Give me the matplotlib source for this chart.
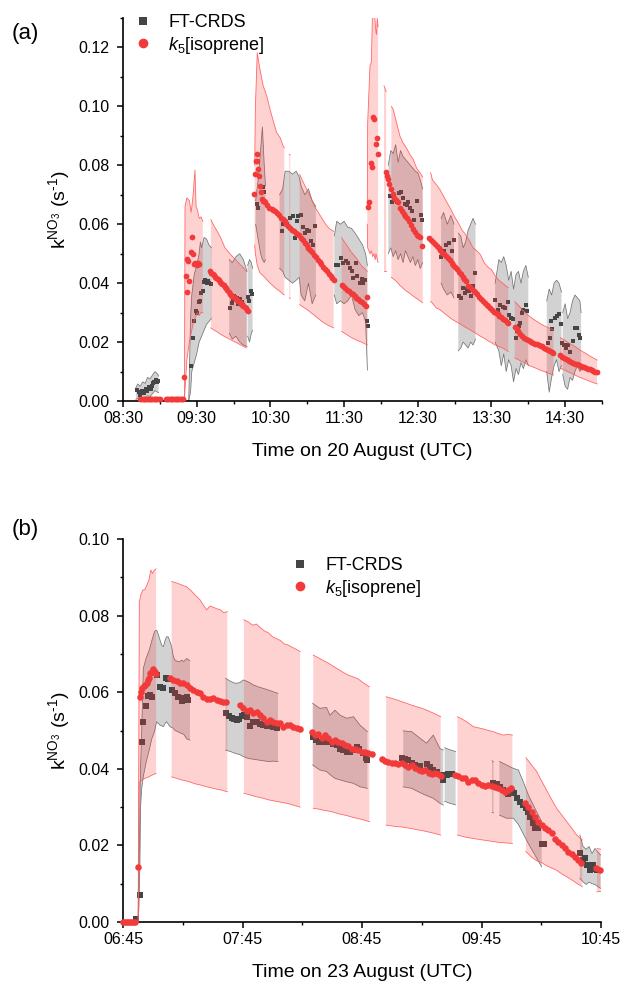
import numpy as np
import matplotlib
matplotlib.use("Agg")
import matplotlib.pyplot as plt
from matplotlib.lines import Line2D
from matplotlib.ticker import FixedLocator, MultipleLocator

plt.rcParams['font.family'] = ['Liberation Sans', 'DejaVu Sans']
plt.rcParams['mathtext.fontset'] = 'custom'
plt.rcParams['mathtext.rm'] = 'Liberation Sans'
plt.rcParams['mathtext.it'] = 'Liberation Sans:italic'
plt.rcParams['mathtext.bf'] = 'Liberation Sans:bold'

# ======================= PANEL (a): minutes after 08:30 =======================
a_start = "08:30"
a_end = "15:00"
a_tick_labels = ["08:30", "09:30", "10:30", "11:30", "12:30", "13:30", "14:30"]
a_xlabel = "Time on 20 August (UTC)"

# k5[isoprene] (time, value)
a_red = [
    (14, 0.0008), (15, 0.0008), (16, 0.0008), (17, 0.0008), (18, 0.0008), (19, 0.0008), (20, 0.0008),
    (21, 0.0008), (22, 0.0008), (23, 0.0008), (24, 0.0008), (25, 0.0008), (26, 0.0008), (27, 0.0008),
    (28, 0.0008), (29, 0.0008), (30, 0.0008),
    (35, 0.0008), (36, 0.0008), (37, 0.0008), (38, 0.0008), (39, 0.0008), (40, 0.0008), (41, 0.0008),
    (42, 0.0008), (43, 0.0008), (44, 0.0008), (45, 0.0008), (46, 0.0008), (47, 0.0008), (48, 0.0008),
    (49, 0.0008), (50, 0.0083),
    (51, 0.0425), (52, 0.0482), (52.5, 0.0370), (53, 0.0476), (54, 0.0407), (55, 0.0507), (56, 0.0558),
    (57, 0.0500), (58, 0.0465), (59, 0.0468), (60, 0.0460), (61, 0.0470), (62, 0.0465),
    (71, 0.0440), (72, 0.0435), (73, 0.0430), (74, 0.0428), (75, 0.0422), (76, 0.0418), (77, 0.0415),
    (78, 0.0410), (79, 0.0405), (80, 0.0402), (81, 0.0398), (82, 0.0394), (83, 0.0388), (84, 0.0382),
    (85, 0.0376), (86, 0.0370), (87, 0.0364), (88, 0.0360), (89, 0.0357), (90, 0.0353), (91, 0.0350),
    (92, 0.0346), (93, 0.0343), (94, 0.0339), (95, 0.0335), (96, 0.0330), (97, 0.0326), (98, 0.0322),
    (99, 0.0318), (100, 0.0314), (101, 0.0310), (102, 0.0306),
    (107, 0.0703), (107.5, 0.0769), (108, 0.0814), (109, 0.0837), (109.5, 0.0814), (110, 0.0786),
    (110.7, 0.0765), (111.5, 0.0729), (112, 0.0708), (113, 0.0686), (114, 0.0680), (115, 0.0678),
    (116, 0.0676), (117.5, 0.0665), (119, 0.0655), (121, 0.0652), (122.5, 0.0650), (124, 0.0645),
    (125.5, 0.0639), (127, 0.0630), (128.5, 0.0622), (130, 0.0617), (131.5, 0.0610), (133, 0.0602),
    (134.5, 0.0594), (136, 0.0588), (137.5, 0.0582), (139, 0.0576), (140.5, 0.0570), (142, 0.0567),
    (143.5, 0.0562), (145, 0.0552), (146.5, 0.0545), (148, 0.0537), (149.5, 0.0529), (151, 0.0521),
    (152.5, 0.0513), (154, 0.0505), (155.5, 0.0497), (157, 0.0489), (158.5, 0.0480), (160, 0.0472),
    (161.5, 0.0464), (163, 0.0456), (164.5, 0.0448), (166, 0.0440), (167.5, 0.0432), (169, 0.0425),
    (170.5, 0.0418), (172, 0.0410),
    (178, 0.0394), (179.5, 0.0389), (181, 0.0383), (182.5, 0.0378), (184, 0.0372), (185.5, 0.0367),
    (187, 0.0362), (188.5, 0.0356), (190, 0.0351), (191.5, 0.0346), (193, 0.0340), (194.5, 0.0335),
    (196, 0.0329), (197.8, 0.0321), (198.9, 0.0352),
    (199.7, 0.0658), (200.5, 0.0676), (201.9, 0.0808), (203, 0.0795), (203.8, 0.0965), (204.6, 0.0956),
    (206, 0.0874), (206.8, 0.0893), (207.6, 0.0837),
    (213.9, 0.0778), (214.7, 0.0765), (215.5, 0.0752), (216.8, 0.0735), (218.2, 0.0718), (219.6, 0.0704),
    (220.9, 0.0690), (222.0, 0.0682), (223.6, 0.0676), (225.5, 0.0655), (227, 0.0644), (228.5, 0.0636),
    (230, 0.0628), (231.5, 0.0620), (233, 0.0610), (234.5, 0.0598), (236, 0.0585), (237.5, 0.0574),
    (239, 0.0565), (240.5, 0.0560), (241.8, 0.0556), (243.6, 0.0527),
    (249.4, 0.0554), (251, 0.0546), (252.5, 0.0540), (254, 0.0533), (255.5, 0.0526), (257, 0.0519),
    (258.5, 0.0512), (260, 0.0504), (261.5, 0.0498), (263, 0.0491), (264.5, 0.0484), (266, 0.0477),
    (267.5, 0.0470), (269, 0.0463), (270.5, 0.0455), (272, 0.0447), (273.5, 0.0439), (275, 0.0430),
    (276.5, 0.0422), (278, 0.0414), (279, 0.0409),
    (281, 0.0392), (282.5, 0.0386), (284, 0.0381), (285.5, 0.0375), (287, 0.0369), (288.5, 0.0362),
    (290, 0.0354), (291.5, 0.0346), (293, 0.0340), (294.5, 0.0334), (296, 0.0327), (297.5, 0.0321),
    (299, 0.0315), (300.5, 0.0309), (302, 0.0303), (303.5, 0.0299), (305, 0.0294), (306.5, 0.0289),
    (308, 0.0284), (309.5, 0.0279), (311, 0.0274), (312.5, 0.0269), (313.7, 0.0265),
    (319, 0.0252), (320.5, 0.0245), (322, 0.0237), (323.5, 0.0228), (325, 0.0220), (326.5, 0.0215),
    (328, 0.0210), (329.5, 0.0206), (331, 0.0203), (332.5, 0.0201), (334, 0.0198), (335.5, 0.0195),
    (337, 0.0192), (338.5, 0.0190), (340, 0.0188), (341.5, 0.0185), (343, 0.0181), (344.5, 0.0177),
    (346, 0.0173), (347.5, 0.0169), (349, 0.0165), (350.5, 0.0162),
    (355.8, 0.0155), (357.5, 0.0151), (359, 0.0147), (360.5, 0.0143), (362, 0.0139), (363.5, 0.0136),
    (365, 0.0133), (366.5, 0.0130), (368, 0.0127), (369.5, 0.0124), (371, 0.0121), (372.5, 0.0119),
    (374, 0.0117), (375.5, 0.0114), (377, 0.0111), (378.5, 0.0109), (380, 0.0107), (381.5, 0.0104),
    (383, 0.0102), (384.5, 0.0100), (385.6, 0.0099),
]

# FT-CRDS (time, value)
a_sq = [
    (11.5, 0.0036), (13, 0.0030), (14, 0.0020), (15.5, 0.0034), (17, 0.0028), (18.5, 0.0040), (19.5, 0.0035),
    (21, 0.0046), (22.5, 0.0040), (23.5, 0.0052), (24.5, 0.0060), (25.5, 0.0066), (26.5, 0.0070),
    (27.5, 0.0064), (28.5, 0.0068),
    (55.4, 0.0120), (56.7, 0.0215), (58.0, 0.0270), (59.2, 0.0305), (60.4, 0.0300), (61.5, 0.0335),
    (62.6, 0.0340), (63.7, 0.0365), (64.8, 0.0372), (65.9, 0.0405), (67.0, 0.0410), (68.1, 0.0402),
    (69.2, 0.0408), (70.3, 0.0400), (71.4, 0.0398),
    (87.5, 0.0316), (88.5, 0.0333), (89.5, 0.0345), (90.5, 0.0356), (91.5, 0.0352), (92.5, 0.0348),
    (93.5, 0.0330), (94.5, 0.0336), (95.5, 0.0345), (96.5, 0.0335), (97.5, 0.0325), (98.5, 0.0320),
    (101.8, 0.0352), (102.8, 0.0340), (104, 0.0372), (105, 0.0362),
    (108.8, 0.0667), (109.8, 0.0655), (113.8, 0.0726), (114.4, 0.0708),
    (129.2, 0.0576), (130.5, 0.0600), (133.2, 0.0600), (136, 0.0622), (138.7, 0.0628), (140, 0.0553),
    (141.4, 0.0610), (142.7, 0.0628), (144.7, 0.0633), (146.8, 0.0590), (148.2, 0.0570), (149.6, 0.0580),
    (151.7, 0.0576), (152.8, 0.0542), (155, 0.0530), (156.3, 0.0593),
    (173.4, 0.0460), (175.3, 0.0460), (177.5, 0.0485), (179.3, 0.0470), (181.5, 0.0475), (183.4, 0.0468),
    (184.8, 0.0450), (186.2, 0.0440), (187.5, 0.0418), (189.7, 0.0470), (190.8, 0.0425), (193, 0.0400),
    (194.3, 0.0415), (195.6, 0.0400), (197, 0.0410), (198.9, 0.0270), (199.3, 0.0253),
    (217.4, 0.0695), (218.7, 0.0675), (220.9, 0.0697), (222.8, 0.0677), (224.7, 0.0705), (226.3, 0.0708),
    (227.7, 0.0690), (229.6, 0.0670), (231, 0.0665), (232.3, 0.0675), (233.6, 0.0655), (235.5, 0.0645),
    (237.2, 0.0615), (239.6, 0.0678), (242.4, 0.0633), (243.2, 0.0616),
    (259.1, 0.0490), (261.1, 0.0510), (263.3, 0.0530), (265.6, 0.0535), (268.2, 0.0510), (269.8, 0.0545),
    (273.8, 0.0355), (274.9, 0.0350), (276.5, 0.0383), (278.4, 0.0365), (279.8, 0.0380), (281.9, 0.0375),
    (283.3, 0.0355), (284.7, 0.0392), (286.6, 0.0434),
    (302.8, 0.0343), (305.5, 0.0310), (306.9, 0.0325), (309.1, 0.0320), (311, 0.0315), (313.7, 0.0336),
    (314.2, 0.0293), (315.6, 0.0282), (317.8, 0.0280), (320, 0.0214), (321, 0.0236), (322.6, 0.0253),
    (323.2, 0.0265), (324.6, 0.0297), (325.9, 0.0310), (328.1, 0.0327), (329.2, 0.0306),
    (346.3, 0.0196), (347.6, 0.0214), (348.2, 0.0270), (349.5, 0.0244), (351.7, 0.0282), (353.6, 0.0288),
    (355.2, 0.0296), (356.4, 0.0262),
    (357.2, 0.0196), (359, 0.0190), (360.7, 0.0180), (362.5, 0.0190), (363.9, 0.0168), (366.1, 0.0205),
    (367.9, 0.0248), (369.8, 0.0248), (371.4, 0.0225), (372, 0.0213),
]

# uncertainty range of k5[isoprene]: segments of (time, upper, lower)
a_red_bands = [
    [(50, 0.0, 0.0), (50.5, 0.066, 0.004), (52, 0.069, 0.014), (54, 0.068, 0.020), (55.5, 0.064, 0.023),
     (57, 0.0695, 0.026), (58.6, 0.0784, 0.028), (59.5, 0.066, 0.029), (60.5, 0.065, 0.030),
     (62, 0.062, 0.029), (63.5, 0.0625, 0.030), (65, 0.061, 0.030)],
    [(71.5, 0.0616, 0.0248), (74, 0.0595, 0.0241), (77, 0.0574, 0.0234), (80, 0.0550, 0.0225),
     (83, 0.0520, 0.0218), (86, 0.0505, 0.0212), (89, 0.0491, 0.0205), (92, 0.0478, 0.0199),
     (95, 0.0465, 0.0192), (98, 0.0452, 0.0186), (100.5, 0.0440, 0.0180)],
    [(107.2, 0.080, 0.053), (107.8, 0.100, 0.050), (109.3, 0.1182, 0.046), (111.5, 0.1126, 0.0435),
     (114.2, 0.1069, 0.0425), (117, 0.1036, 0.0412), (119.7, 0.0990, 0.0400), (122.4, 0.0950, 0.0390),
     (125.1, 0.0911, 0.0380), (127.8, 0.0895, 0.0372), (130.5, 0.0865, 0.0362), (131.3, 0.0860, 0.0360)],
    [(135.4, 0.0837, 0.0350), (136.2, 0.0835, 0.0348)],
    [(143.8, 0.0769, 0.0327), (147, 0.0740, 0.0318), (150, 0.0715, 0.0310), (153, 0.0690, 0.0300),
     (156, 0.0660, 0.0290), (159, 0.0640, 0.0280), (162, 0.0620, 0.0270), (165, 0.0600, 0.0262),
     (168, 0.0585, 0.0255), (171.5, 0.0576, 0.0248)],
    [(178, 0.0554, 0.0236), (182, 0.0530, 0.0226), (186, 0.0505, 0.0215), (190, 0.0485, 0.0207),
     (194, 0.0460, 0.0200), (198.9, 0.0440, 0.0190)],
    [(198.9, 0.065, 0.060), (199.2, 0.0944, 0.052), (201.1, 0.1137, 0.050), (202.2, 0.1150, 0.051),
     (203.3, 0.1350, 0.049), (204.3, 0.1350, 0.050), (205.4, 0.1280, 0.048), (206, 0.1250, 0.050),
     (206.5, 0.1245, 0.049), (207, 0.1300, 0.048), (207.7, 0.1270, 0.047)],
    [(212.5, 0.107, 0.044), (214.3, 0.105, 0.044)],
    [(218.5, 0.100, 0.042), (220, 0.099, 0.0415), (222.8, 0.0944, 0.0405), (225.5, 0.0899, 0.0392),
     (228.2, 0.0875, 0.0382), (231, 0.0857, 0.0372), (233.6, 0.0837, 0.0365), (236.3, 0.0820, 0.0356),
     (239.1, 0.0790, 0.0348), (241.8, 0.0775, 0.0340), (244, 0.0760, 0.0333)],
    [(250.5, 0.0775, 0.0338), (252, 0.0750, 0.0332), (255, 0.0735, 0.0316), (258, 0.0718, 0.0310),
     (261, 0.0695, 0.0300), (264, 0.0672, 0.0290), (267, 0.0650, 0.0280), (270, 0.0625, 0.0272),
     (273, 0.0605, 0.0265), (276, 0.0580, 0.0258), (279, 0.0565, 0.0250), (282, 0.0545, 0.0243),
     (285, 0.0520, 0.0235), (288, 0.0510, 0.0228), (291, 0.0497, 0.0220), (294, 0.0470, 0.0213),
     (297, 0.0455, 0.0205), (300, 0.0446, 0.0198), (303, 0.0425, 0.0190), (306, 0.0410, 0.0185),
     (309, 0.0400, 0.0180), (313.7, 0.0384, 0.0168)],
    [(319, 0.0337, 0.0146), (322, 0.0325, 0.0140), (325, 0.0310, 0.0133), (328, 0.0298, 0.0127),
     (331, 0.0287, 0.0120), (334, 0.0278, 0.0115), (337, 0.0270, 0.0110), (340, 0.0262, 0.0104),
     (343, 0.0255, 0.0100), (346, 0.0249, 0.0095), (350.5, 0.0241, 0.0088)],
    [(356, 0.0215, 0.0112), (359, 0.0208, 0.0106), (362, 0.0200, 0.0100), (365, 0.0192, 0.0094),
     (368, 0.0185, 0.0088), (371, 0.0176, 0.0082), (374, 0.0168, 0.0077), (377, 0.0161, 0.0072),
     (380, 0.0153, 0.0067), (383, 0.0146, 0.0062), (386, 0.0139, 0.0058)],
]

# uncertainty range of FT-CRDS: segments of (time, upper, lower)
a_gray_bands = [
    [(10.5, 0.0045, 0.0005), (12, 0.0058, 0.0010), (14, 0.0050, 0.0003), (16, 0.0065, 0.0012),
     (18, 0.0060, 0.0008), (20, 0.0080, 0.0018), (22, 0.0075, 0.0015), (24, 0.0088, 0.0025),
     (26, 0.0100, 0.0035), (28, 0.0092, 0.0030), (29, 0.0085, 0.0028)],
    [(53.5, 0.0, 0.0), (55, 0.028, 0.003), (56, 0.036, 0.010), (58, 0.043, 0.013), (60, 0.046, 0.016),
     (62, 0.050, 0.020), (63, 0.054, 0.021), (64, 0.052, 0.022), (66, 0.0555, 0.024), (68, 0.055, 0.026),
     (70, 0.053, 0.027), (72, 0.052, 0.028)],
    [(86.5, 0.048, 0.023), (89, 0.047, 0.021), (92, 0.049, 0.022), (95, 0.050, 0.020), (98, 0.048, 0.019),
     (101, 0.044, 0.0185)],
    [(101.5, 0.046, 0.022), (103, 0.048, 0.020), (104.5, 0.047, 0.023), (105.5, 0.045, 0.024)],
    [(108, 0.068, 0.060), (110, 0.075, 0.055), (112, 0.085, 0.050), (113.5, 0.093, 0.048),
     (115, 0.080, 0.047), (116, 0.073, 0.048)],
    [(127.5, 0.070, 0.045), (130, 0.072, 0.044), (132, 0.078, 0.042), (135, 0.078, 0.041),
     (138, 0.077, 0.040), (141, 0.078, 0.041), (143.5, 0.076, 0.042), (145, 0.073, 0.036),
     (148, 0.070, 0.034), (151, 0.072, 0.040), (154, 0.068, 0.033), (157, 0.066, 0.036)],
    [(172, 0.056, 0.036), (174, 0.061, 0.033), (177, 0.060, 0.034), (180, 0.061, 0.033), (183, 0.059, 0.034),
     (186, 0.0586, 0.036), (189, 0.057, 0.031), (192, 0.055, 0.029), (195, 0.053, 0.030),
     (197.5, 0.050, 0.027), (199, 0.046, 0.0105)],
    [(216, 0.080, 0.050), (218, 0.085, 0.052), (220, 0.084, 0.049), (222, 0.087, 0.051), (224, 0.081, 0.048),
     (226, 0.085, 0.050), (228, 0.083, 0.047), (230, 0.082, 0.051), (232, 0.081, 0.049), (234, 0.080, 0.047),
     (236, 0.079, 0.049), (238, 0.078, 0.046), (240, 0.0775, 0.048), (242, 0.075, 0.045), (244, 0.072, 0.047)],
    [(259, 0.062, 0.040), (261, 0.064, 0.038), (264, 0.060, 0.036), (267, 0.063, 0.037), (269.5, 0.060, 0.035)],
    [(273, 0.057, 0.017), (275, 0.056, 0.018), (277, 0.052, 0.020), (279, 0.054, 0.019), (281, 0.058, 0.018),
     (283, 0.060, 0.020), (285, 0.062, 0.019), (287, 0.060, 0.021)],
    [(303, 0.040, 0.020), (306, 0.048, 0.017), (308, 0.047, 0.012), (310, 0.049, 0.016), (312, 0.046, 0.010),
     (314, 0.041, 0.014), (316, 0.044, 0.012), (318, 0.038, 0.0065), (320, 0.043, 0.011), (322, 0.044, 0.009),
     (324, 0.040, 0.013), (326, 0.044, 0.011), (328, 0.046, 0.014), (330, 0.042, 0.012)],
    [(345, 0.034, 0.010), (347, 0.038, 0.003), (349, 0.036, 0.008), (351, 0.040, 0.012), (353, 0.041, 0.014),
     (355, 0.040, 0.010), (357, 0.037, 0.012)],
    [(358, 0.030, 0.009), (360, 0.033, 0.005), (362, 0.028, 0.004), (364, 0.030, 0.008), (366, 0.034, 0.007),
     (368, 0.036, 0.010), (370, 0.035, 0.012), (372, 0.034, 0.010), (373, 0.030, 0.011)],
]

# ======================= PANEL (b): minutes after 06:45 =======================
b_start = "06:45"
b_end = "10:45"
b_tick_labels = ["06:45", "07:45", "08:45", "09:45", "10:45"]
b_xlabel = "Time on 23 August (UTC)"

b_red = [
    (0, 0.0), (1, 0.0), (2, 0.0), (3, 0.0), (4, 0.0), (5, 0.0), (6, 0.0),
    (7.5, 0.0144), (8.5, 0.0587), (9.2, 0.0600), (9.7, 0.0612), (10.5, 0.0617), (11.2, 0.0620), (11.9, 0.0625),
    (12.5, 0.0632), (13.1, 0.0638), (13.8, 0.0650), (14.4, 0.0654), (15.0, 0.0660), (15.6, 0.0656),
    (16.1, 0.0652), (16.6, 0.0647),
    (23.6, 0.0638), (25.3, 0.0632), (27.0, 0.0629), (28.6, 0.0625), (30.3, 0.0623), (32.0, 0.0619),
    (33.6, 0.0610), (35.3, 0.0606), (37.0, 0.0600), (38.7, 0.0597), (40.3, 0.0588), (42.0, 0.0581),
    (43.7, 0.0582), (45.3, 0.0584), (47.0, 0.0580), (48.7, 0.0577), (50.4, 0.0575), (51.7, 0.0575),
    (58.7, 0.0567), (60.4, 0.0558), (62.1, 0.0552), (63.8, 0.0554), (65.4, 0.0545), (67.1, 0.0549),
    (68.8, 0.0540), (70.4, 0.0532), (72.1, 0.0523), (73.8, 0.0527), (75.5, 0.0523), (77.1, 0.0519),
    (78.8, 0.0519), (80.5, 0.0510), (82.2, 0.0514), (83.8, 0.0514), (85.5, 0.0510), (87.2, 0.0506),
    (88.9, 0.0503),
    (94.7, 0.0495), (96.4, 0.0488), (98.1, 0.0491), (99.7, 0.0480), (101.4, 0.0488), (103.1, 0.0480),
    (104.8, 0.0471), (106.4, 0.0475), (108.1, 0.0471), (109.8, 0.0467), (111.5, 0.0462), (113.1, 0.0460),
    (114.8, 0.0453), (116.5, 0.0453), (118.2, 0.0449), (119.8, 0.0445), (121.5, 0.0445), (123.2, 0.0440),
    (124.9, 0.0439),
    (129.9, 0.0426), (131.6, 0.0420), (133.3, 0.0419), (135.0, 0.0416), (136.6, 0.0414), (138.3, 0.0412),
    (140.0, 0.0416), (141.7, 0.0410), (143.3, 0.0406), (145.0, 0.0410), (146.7, 0.0401), (148.4, 0.0397),
    (150.0, 0.0393), (151.7, 0.0397), (153.4, 0.0388), (155.1, 0.0386), (156.7, 0.0388), (158.4, 0.0386),
    (159.8, 0.0382),
    (166.7, 0.0384), (168.4, 0.0382), (170.0, 0.0377), (171.7, 0.0375), (173.4, 0.0366), (175.1, 0.0371),
    (176.7, 0.0371), (178.4, 0.0362), (180.1, 0.0358), (181.8, 0.0356), (183.4, 0.0358), (185.1, 0.0356),
    (186.8, 0.0353), (188.4, 0.0351), (190.1, 0.0345), (191.8, 0.0340), (193.5, 0.0345), (194.6, 0.0351),
    (201.8, 0.0310), (203.5, 0.0301), (205.2, 0.0288), (206.8, 0.0275), (208.5, 0.0262), (210.2, 0.0253),
    (211.8, 0.0245), (213.5, 0.0240), (215.2, 0.0232), (216.9, 0.0218), (218.5, 0.0210), (220.2, 0.0201),
    (221.9, 0.0192), (223.5, 0.0184), (225.2, 0.0177), (226.9, 0.0171), (228.6, 0.0162), (230.2, 0.0153),
    (237.7, 0.0140), (239.4, 0.0136),
]

b_sq = [
    (6.5, 0.0008), (8.5, 0.0070), (9.4, 0.0471), (10.2, 0.0523), (11.4, 0.0563), (12.7, 0.0589),
    (13.6, 0.0593), (14.4, 0.0588), (16.9, 0.0645), (18.6, 0.0614), (19.9, 0.0612), (21.6, 0.0638),
    (22.7, 0.0634), (24.4, 0.0606), (26.1, 0.0597), (27.8, 0.0588), (29.5, 0.0577), (30.6, 0.0584),
    (31.9, 0.0588), (32.8, 0.0580),
    (51.7, 0.0545), (53.2, 0.0538), (54.5, 0.0533), (55.8, 0.0531), (57.1, 0.0528), (58.4, 0.0530),
    (59.6, 0.0537), (60.8, 0.0540),
    (62.1, 0.0534), (63.8, 0.0511), (65.4, 0.0521), (67.1, 0.0521), (68.8, 0.0518), (70.4, 0.0515),
    (72.1, 0.0511), (73.8, 0.0512), (75.5, 0.0509), (77.1, 0.0507),
    (95.2, 0.0484), (96.9, 0.0475), (98.6, 0.0469), (100.2, 0.0471), (102.3, 0.0471), (103.9, 0.0471),
    (105.6, 0.0464), (107.3, 0.0462), (109.0, 0.0452), (110.6, 0.0449), (112.3, 0.0445), (114.0, 0.0443),
    (115.7, 0.0449), (117.3, 0.0458), (118.7, 0.0453), (120.6, 0.0440), (122.0, 0.0427), (122.7, 0.0423),
    (139.9, 0.0427), (141.6, 0.0425), (143.2, 0.0423), (144.9, 0.0414), (146.6, 0.0410), (149.1, 0.0408),
    (152.4, 0.0412), (154.1, 0.0406), (155.8, 0.0397), (157.5, 0.0391), (160.5, 0.0371), (160.8, 0.0384),
    (162.5, 0.0384), (163.3, 0.0386), (165.0, 0.0386),
    (186.0, 0.0362), (187.6, 0.0360), (189.3, 0.0353), (191.0, 0.0345), (192.6, 0.0340), (193.5, 0.0333),
    (195.2, 0.0340), (196.3, 0.0336), (197.6, 0.0323), (199.3, 0.0314), (201.0, 0.0305), (202.3, 0.0297),
    (203.5, 0.0288), (204.3, 0.0275), (206.0, 0.0258), (206.8, 0.0245), (208.5, 0.0245), (210.2, 0.0203),
    (211.4, 0.0203),
    (229.4, 0.0179), (230.8, 0.0162), (232.0, 0.0166), (233.1, 0.0149), (234.5, 0.0136), (235.8, 0.0149),
    (237.0, 0.0138), (237.8, 0.0136),
]

b_red_bands = [
    [(7.6, 0.0, 0.0), (8.2, 0.0836, 0.0366), (9.0, 0.0855, 0.0369), (10.0, 0.0867, 0.0372),
     (11.0, 0.0868, 0.0375), (12.0, 0.0880, 0.0377), (13.0, 0.0893, 0.0379), (14.0, 0.0919, 0.0382),
     (14.8, 0.0910, 0.0384), (15.6, 0.0918, 0.0386), (16.6, 0.0922, 0.0388)],
    [(24.4, 0.0889, 0.0379), (27.0, 0.0885, 0.0375), (29.5, 0.0880, 0.0371), (32.0, 0.0875, 0.0368),
     (34.0, 0.0866, 0.0365), (36.0, 0.0855, 0.0361), (38.7, 0.0841, 0.0358), (40.0, 0.0830, 0.0356),
     (42.0, 0.0815, 0.0353), (43.7, 0.0825, 0.0351), (45.3, 0.0822, 0.0349), (47.0, 0.0818, 0.0347),
     (49.0, 0.0815, 0.0345), (50.4, 0.0808, 0.0343), (52.4, 0.0810, 0.0340)],
    [(60.7, 0.0789, 0.0336), (63.0, 0.0783, 0.0333), (65.0, 0.0775, 0.0330), (67.0, 0.0778, 0.0327),
     (69.0, 0.0768, 0.0325), (71.0, 0.0760, 0.0322), (73.0, 0.0755, 0.0319), (75.0, 0.0745, 0.0317),
     (77.0, 0.0740, 0.0315), (79.0, 0.0735, 0.0313), (81.0, 0.0726, 0.0311), (83.0, 0.0723, 0.0309),
     (85.0, 0.0717, 0.0306), (87.0, 0.0712, 0.0303), (88.9, 0.0706, 0.0300)],
    [(95.5, 0.0697, 0.0297), (98.0, 0.0690, 0.0295), (100.5, 0.0683, 0.0292), (103.0, 0.0676, 0.0290),
     (105.5, 0.0668, 0.0287), (108.0, 0.0660, 0.0283), (110.5, 0.0652, 0.0280), (113.0, 0.0645, 0.0277),
     (115.5, 0.0640, 0.0273), (118.0, 0.0635, 0.0270), (120.5, 0.0625, 0.0267), (123.7, 0.0614, 0.0262)],
    [(132.1, 0.0588, 0.0253), (134.8, 0.0584, 0.0251), (137.4, 0.0580, 0.0249), (140.0, 0.0575, 0.0248),
     (142.4, 0.0571, 0.0246), (145.0, 0.0566, 0.0244), (147.5, 0.0562, 0.0241), (150.0, 0.0558, 0.0239),
     (152.5, 0.0553, 0.0236), (156.0, 0.0545, 0.0232), (159.5, 0.0536, 0.0227)],
    [(167.9, 0.0536, 0.0227), (170.2, 0.0530, 0.0224), (172.5, 0.0523, 0.0221), (175.9, 0.0510, 0.0218),
     (178.4, 0.0507, 0.0216), (180.9, 0.0504, 0.0214), (183.5, 0.0500, 0.0212), (186.0, 0.0497, 0.0210),
     (188.5, 0.0492, 0.0208), (191.0, 0.0488, 0.0207), (193.2, 0.0490, 0.0206), (195.5, 0.0488, 0.0205)],
    [(202.3, 0.0429, 0.0184), (205.0, 0.0411, 0.0170), (207.7, 0.0393, 0.0160), (210.2, 0.0368, 0.0155),
     (212.7, 0.0344, 0.0147), (215.2, 0.0320, 0.0141), (217.7, 0.0297, 0.0135), (220.2, 0.0280, 0.0126),
     (222.8, 0.0262, 0.0118), (225.3, 0.0245, 0.0110), (227.8, 0.0227, 0.0101), (230.6, 0.0214, 0.0092)],
    [(238.0, 0.0192, 0.0079), (239.8, 0.0190, 0.0080)],
]

b_gray_bands = [
    [(7.6, 0.0, 0.0), (8.0, 0.012, 0.004), (8.5, 0.030, 0.015), (8.8, 0.040, 0.030), (9.4, 0.050, 0.0349),
     (10.2, 0.0662, 0.038), (11.7, 0.0690, 0.0419), (13.2, 0.0710, 0.0450), (14.5, 0.0735, 0.0479),
     (15.8, 0.0758, 0.0497), (16.9, 0.0762, 0.0523), (17.8, 0.0750, 0.0518), (18.6, 0.0736, 0.0514),
     (19.5, 0.0722, 0.0512), (20.3, 0.0719, 0.0510), (21.1, 0.0735, 0.0518), (21.9, 0.0745, 0.0523),
     (22.8, 0.0744, 0.0516), (23.6, 0.0732, 0.0510), (24.4, 0.0719, 0.0508), (25.3, 0.0693, 0.0506),
     (26.1, 0.0684, 0.0500), (27.5, 0.0680, 0.0497), (28.6, 0.0680, 0.0494), (29.5, 0.0684, 0.0492),
     (30.5, 0.0680, 0.0490), (32.0, 0.0688, 0.0478), (33.6, 0.0682, 0.0475)],
    [(51.5, 0.0636, 0.0449), (54.5, 0.0627, 0.0444), (56.5, 0.0623, 0.0440), (58.7, 0.0625, 0.0437),
     (60.4, 0.0632, 0.0432), (62.9, 0.0627, 0.0427), (65.4, 0.0619, 0.0425), (67.9, 0.0614, 0.0423),
     (70.4, 0.0610, 0.0421), (72.9, 0.0606, 0.0419), (75.5, 0.0601, 0.0420), (77.8, 0.0597, 0.0419)],
    [(95.2, 0.0571, 0.0410), (98.8, 0.0558, 0.0397), (102.2, 0.0560, 0.0393), (103.9, 0.0540, 0.0385),
     (106.4, 0.0553, 0.0375), (109.0, 0.0540, 0.0371), (112.3, 0.0532, 0.0366), (115.7, 0.0536, 0.0362),
     (119.0, 0.0514, 0.0353), (122.7, 0.0497, 0.0349)],
    [(140.7, 0.0499, 0.0353), (144.9, 0.0497, 0.0349), (149.1, 0.0480, 0.0338), (152.4, 0.0467, 0.0330),
     (155.8, 0.0488, 0.0323), (159.1, 0.0453, 0.0310), (160.8, 0.0449, 0.0305)],
    [(161.5, 0.0455, 0.0315), (164.0, 0.0450, 0.0310), (167.0, 0.0445, 0.0306)],
    [(185.3, 0.0421, 0.0286), (186.0, 0.0418, 0.0285)],
    [(189.0, 0.0419, 0.0279), (192.6, 0.0410, 0.0271), (196.0, 0.0401, 0.0271), (198.5, 0.0397, 0.0255),
     (201.0, 0.0366, 0.0230), (203.5, 0.0332, 0.0205), (206.8, 0.0297, 0.0175), (210.2, 0.0262, 0.0144)],
    [(229.4, 0.0227, 0.0114), (231.0, 0.0197, 0.0105), (232.5, 0.0190, 0.0098), (234.0, 0.0197, 0.0104),
     (235.5, 0.0179, 0.0100), (237.0, 0.0192, 0.0098), (238.5, 0.0182, 0.0092), (239.8, 0.0175, 0.0088)],
]

legend_labels = ["FT-CRDS", r"$\mathit{k_5}$[isoprene]"]
ylabel = r"k$^{\mathregular{NO_3}}$ (s$^{\mathregular{\text{-}1}}$)"

# ======================= styling =======================
RED = "#F23A3A"
SQ = "#454545"
RED_FILL = (1.0, 0.2, 0.2)
GRAY_FILL = "#D2D2D2"
GRAY_EDGE = "#747474"


def hhmm_to_min(s, start):
    h, m = s.split(":")
    h0, m0 = start.split(":")
    return int(h) * 60 + int(m) - (int(h0) * 60 + int(m0))


def draw_panel(ax, red, sq, red_bands, gray_bands, start, end, tick_labels, ymax, yticks_max, xlabel,
               red_size, sq_size):
    for seg in gray_bands:
        t, hi, lo = np.array(seg).T
        ax.fill_between(t, lo, hi, facecolor=GRAY_FILL, edgecolor="none", zorder=1)
        ax.plot(t, hi, color=GRAY_EDGE, lw=0.55, zorder=1.2)
        ax.plot(t, lo, color=GRAY_EDGE, lw=0.55, zorder=1.2)
    t, v = np.array(sq).T
    ax.scatter(t, v, marker="s", s=sq_size, color=SQ, linewidths=0, zorder=2, clip_on=False)
    for seg in red_bands:
        t2, hi, lo = np.array(seg).T
        ax.fill_between(t2, lo, hi, facecolor=RED_FILL, alpha=0.22, edgecolor="none", zorder=3)
        ax.plot(t2, hi, color="#FF5A5A", lw=0.6, alpha=0.9, zorder=3.2)
        ax.plot(t2, lo, color="#FF5A5A", lw=0.6, alpha=0.9, zorder=3.2)
    t3, v3 = np.array(red).T
    ax.scatter(t3, v3, marker="o", s=red_size, color=RED, linewidths=0, zorder=4, clip_on=False)

    x_end = hhmm_to_min(end, start)
    ax.set_xlim(0, x_end)
    ax.set_ylim(0, ymax)
    major = [hhmm_to_min(s, start) for s in tick_labels]
    ax.xaxis.set_major_locator(FixedLocator(major))
    ax.set_xticklabels(tick_labels)
    minor = [m + 30 for m in major if m + 30 <= x_end]
    ax.xaxis.set_minor_locator(FixedLocator(minor))
    yt = np.round(np.arange(0, yticks_max + 1e-9, 0.02), 2)
    ax.set_yticks(yt)
    ax.set_yticklabels([f"{y:.2f}" for y in yt])
    ax.yaxis.set_minor_locator(MultipleLocator(0.01))

    for sp in ("top", "right"):
        ax.spines[sp].set_visible(False)
    for sp in ("left", "bottom"):
        ax.spines[sp].set_linewidth(1.2)
    ax.tick_params(which="major", direction="out", length=4.5, width=1.1, labelsize=11.5)
    ax.tick_params(which="minor", direction="out", length=2.5, width=1.0)
    ax.tick_params(axis="y", which="major", pad=5)
    ax.tick_params(axis="x", which="major", pad=3)
    ax.set_xlabel(xlabel, fontsize=14, labelpad=12)
    ax.set_ylabel(ylabel, fontsize=14, labelpad=5)


fig = plt.figure(figsize=(6.21, 9.83), dpi=100)
W, H = 621.0, 983.0
ax_a = fig.add_axes([123 / W, 1 - 401 / H, 479 / W, 383 / H])
ax_b = fig.add_axes([123 / W, 1 - 922 / H, 478 / W, 383 / H])

draw_panel(ax_a, a_red, a_sq, a_red_bands, a_gray_bands, a_start, a_end, a_tick_labels, 0.13, 0.12,
           a_xlabel, 17, 12)
draw_panel(ax_b, b_red, b_sq, b_red_bands, b_gray_bands, b_start, b_end, b_tick_labels, 0.10, 0.10,
           b_xlabel, 22, 14)

handles = [Line2D([], [], ls="none", marker="s", ms=5.8, color=SQ, mew=0),
           Line2D([], [], ls="none", marker="o", ms=7, color=RED, mew=0)]
for ax, (x0, ytop) in ((ax_a, (134, 14)), (ax_b, (291, 557))):
    ax.legend(handles, legend_labels, loc="upper left", bbox_to_anchor=(x0 / W, 1 - ytop / H),
              bbox_transform=fig.transFigure, frameon=False, fontsize=13, borderpad=0, borderaxespad=0,
              handlelength=1.0, handletextpad=0.9, labelspacing=0.2)

fig.text(12 / W, 1 - 33 / H, "(a)", fontsize=16, va="center", ha="left")
fig.text(12 / W, 1 - 529 / H, "(b)", fontsize=16, va="center", ha="left")

fig.savefig("out.png", dpi=100)
